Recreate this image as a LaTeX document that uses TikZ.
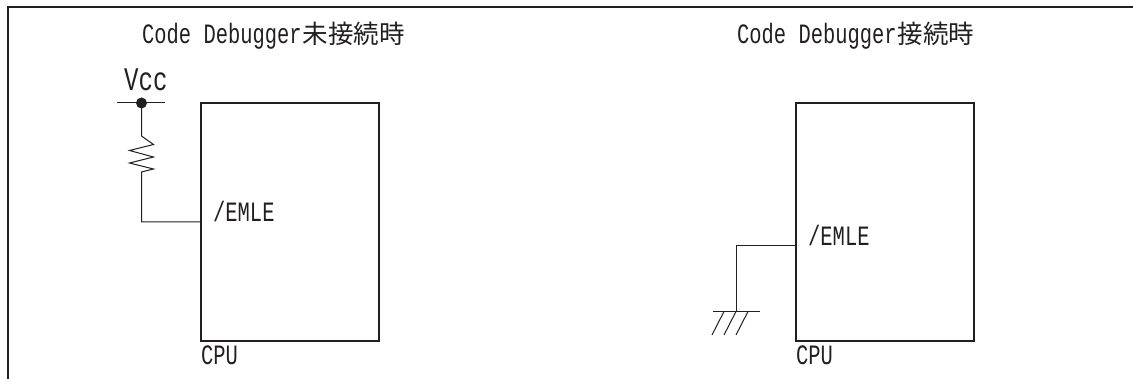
\documentclass[tikz,border=0pt]{standalone}
\usepackage{fontspec}
\usepackage{xcolor}
\setmainfont{Liberation Mono}
\newfontfamily\labelfont[FakeStretch=0.73]{Liberation Mono}
\newfontfamily\cjkfont{Noto Sans CJK JP}
\usetikzlibrary{positioning,calc}
\definecolor{inkgray}{HTML}{231F20}
\tikzset{cpubox/.style={draw=inkgray,line width=2.6pt,minimum width=178pt,minimum height=238pt,inner sep=0pt,outer sep=0pt}}
\tikzset{txt/.style={inner sep=0pt,anchor=base west,text=inkgray,font=\fontsize{28}{28}\labelfont}}
\tikzset{wire/.style={draw=inkgray,line width=1pt}}

\begin{document}
\begin{tikzpicture}[x=1pt, y=-1pt]
    \useasboundingbox (0,0) rectangle (1133,379);
    % frame
    \coordinate (fr) at (1133,7);
    \coordinate (fc) at (8,7);
    \coordinate (fb) at (8,379);
    \draw[inkgray,line width=1.3pt] (fr) -- (fc) -- (fb);
    % left circuit
    \node[cpubox] (box1) at (290,222) {};
    \node[txt] (title1) at (142,44) {Code Debugger\hspace{1pt}{\fontsize{25.5}{25.5}\cjkfont 未接続時}};
    \node[txt,font=\fontsize{33}{33}\labelfont] (vcc) at (124,90.5) {Vcc};
    \node[txt] (emle1) at (213,221.7) {/EMLE};
    \node[txt] (cpu1) at (201,365) {CPU};
    \coordinate (railL) at (117,103);
    \coordinate (railR) at (165,103);
    \coordinate (dot) at (141.5,103);
    \coordinate (rtop) at (141.5,136);
    \coordinate (rbot) at (141.5,172);
    \draw[wire] (railL) -- (railR);
    \fill[inkgray] (dot) circle (5.5);
    \draw[wire] (dot) -- (rtop) -- ++(12,8.5) -- ++(-24,6) -- ++(24,6.5) -- ++(-24,6) -- ++(24,6) -- (rbot) |- (box1.west);
    % right circuit
    \node[cpubox] (box2) at (885,222) {};
    \node[txt] (title2) at (737,44) {Code Debugger\hspace{1pt}{\fontsize{25.5}{25.5}\cjkfont 接続時}};
    \node[txt] (emle2) at (808,245.7) {/EMLE};
    \node[txt] (cpu2) at (796,365) {CPU};
    \coordinate (pin) at (796,246);
    \coordinate (gnd) at (736,311.5);
    \coordinate (gndL) at (712.5,311.5);
    \coordinate (gndR) at (760,311.5);
    \draw[wire] (pin) -| (gnd);
    \draw[wire] (gndL) -- (gndR);
    \foreach \i in {-12,0,12} {
        \draw[wire] ($(gnd)+(\i,0)$) -- ++(-12,23.5);
    }
\end{tikzpicture}
\end{document}
